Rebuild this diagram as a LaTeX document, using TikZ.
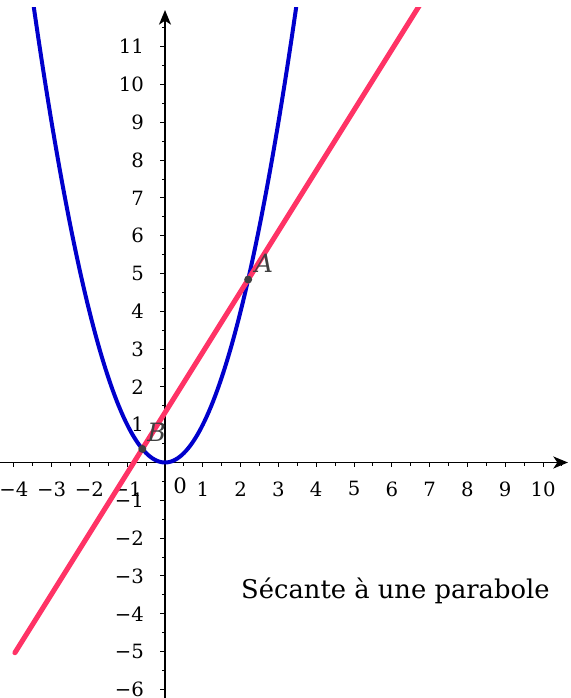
\documentclass[tikz,border=0pt]{standalone}
\usepackage{fontspec}
\setmainfont{DejaVu Serif}
\usetikzlibrary{arrows.meta,calc}
\definecolor{pblue}{RGB}{0,0,204}
\definecolor{pred}{RGB}{255,51,102}
\definecolor{pgray}{RGB}{64,64,64}
\begin{document}
\begin{tikzpicture}[x=1cm,y=1cm,
  ticklab/.style={font=\fontsize{14.8}{16}\selectfont, inner sep=0pt},
  axisline/.style={line width=1.5pt,-{Stealth[length=11pt,width=9pt,inset=3pt]}},
  tickmark/.style={line width=0.7pt},
  ptlab/.style={text=pgray,font=\fontsize{19}{22}\selectfont\itshape, inner sep=0pt},
  ptdot/.style={circle,fill=pgray,inner sep=0pt,minimum size=6pt}]
\useasboundingbox (-4.365,-6.23) rectangle (10.714,12.235);
% axes
\coordinate (xs) at (-4.5,0);
\coordinate (xe) at (10.66,0);
\coordinate (ys) at (0,-6.4);
\coordinate (ye) at (0,11.97);
\draw[axisline] (xs) -- (xe);
\draw[axisline] (ys) -- (ye);
% ticks
\foreach \i/\t in {-4/−4,-3/−3,-2/−2,-1/−1,1/1,2/2,3/3,4/4,5/5,6/6,7/7,8/8,9/9,10/10}{
  \draw[tickmark] (\i,0) -- (\i,-0.13);
  \node[ticklab] (xl\i) at (\i,-0.70) {\t};
}
\foreach \i in {-4.5,-3.5,...,10.5}{
  \draw[tickmark] (\i,0) -- (\i,-0.08);
}
\foreach \i/\t in {-6/−6,-5/−5,-4/−4,-3/−3,-2/−2,-1/−1,1/1,2/2,3/3,4/4,5/5,6/6,7/7,8/8,9/9,10/10,11/11}{
  \draw[tickmark] (0,\i) -- (-0.13,\i);
  \node[ticklab,anchor=east] (yl\i) at (-0.55,\i) {\t};
}
\foreach \i in {-6.5,-5.5,...,11.5}{
  \draw[tickmark] (0,\i) -- (-0.08,\i);
}
\node[ticklab,font=\fontsize{16}{18}\selectfont] (orig) at (0.4,-0.61) {0};
% curves
\coordinate (A) at (2.2,4.84);
\coordinate (B) at (-0.6,0.36);
\begin{scope}
\clip (-4.5,-6.4) rectangle (10.8,12.03);
\draw[pblue,line width=3pt] plot[domain=-3.5:3.5,samples=120,smooth] (\x,{\x*\x});
\draw[pred,line width=3.8pt,line cap=round] ($(B)!-1.2036!(A)$) -- ($(B)!2.62!(A)$);
\end{scope}
\node[ptdot] (Ad) at (A) {};
\node[ptdot] (Bd) at (B) {};
\node[ptlab] (Al) at (2.62,5.27) {A};
\node[ptlab] (Bl) at (-0.22,0.79) {B};
\node[font=\fontsize{19.4}{22}\selectfont,inner sep=0pt,anchor=base west] (cap) at (2.01,-3.585) {Sécante à une parabole};
\end{tikzpicture}
\end{document}
